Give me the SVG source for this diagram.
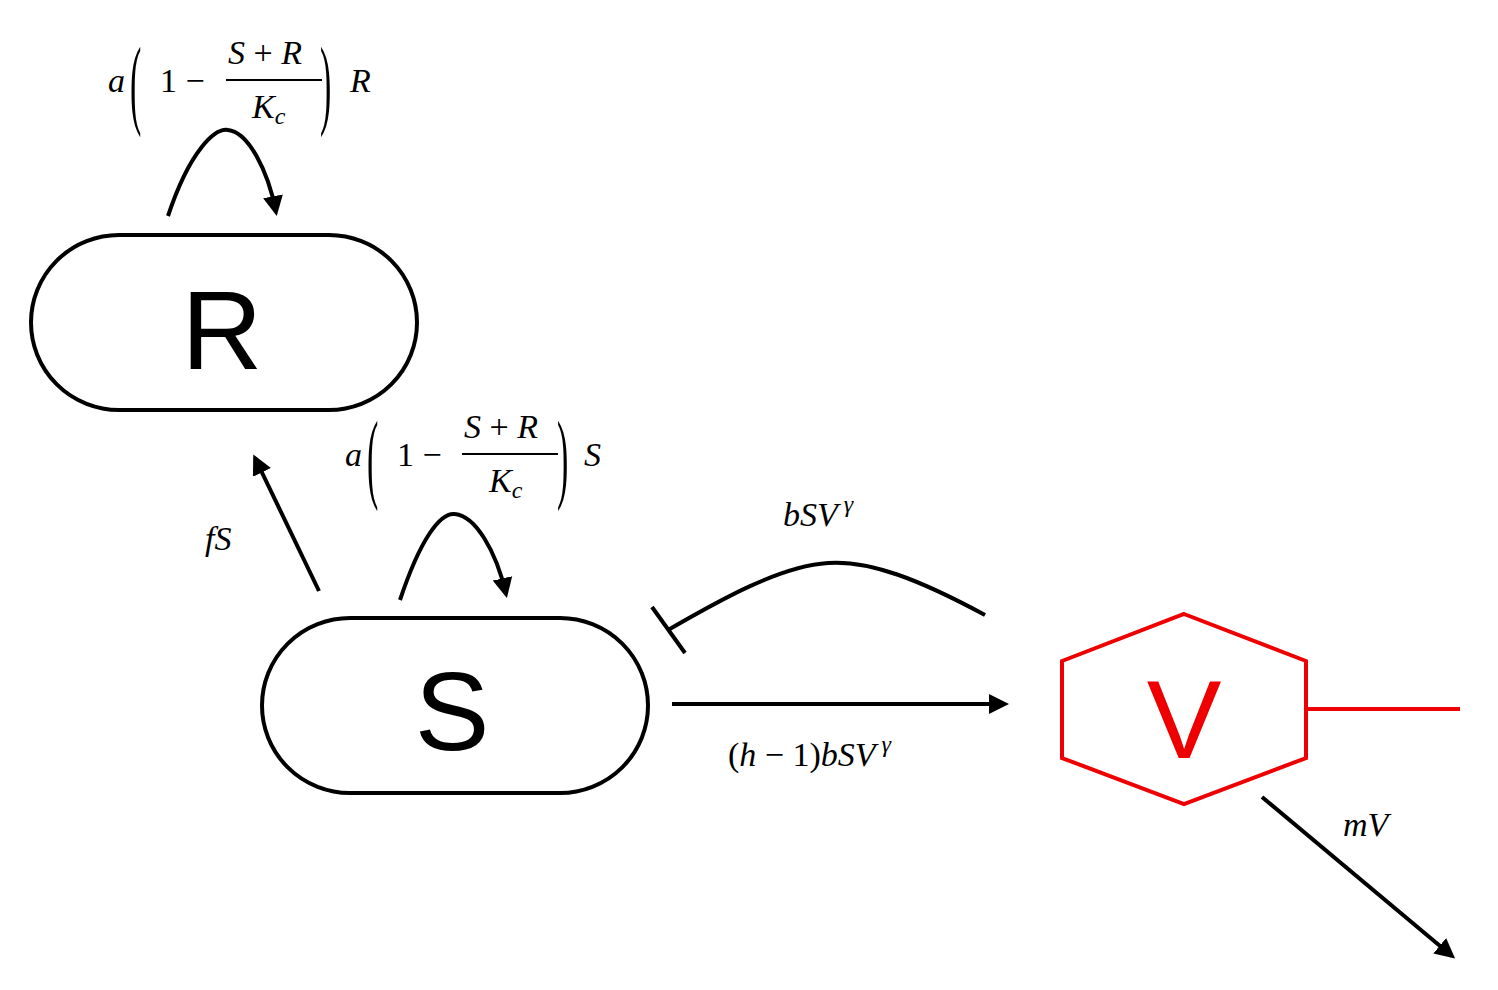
<svg xmlns="http://www.w3.org/2000/svg" width="1498" height="990" viewBox="0 0 1498 990">
<style>
.node{fill:#fff;stroke:#000;stroke-width:4}
.big{font-family:"Liberation Sans",Arial,sans-serif;font-size:112px;text-anchor:middle}
.m{font-family:"Liberation Serif","DejaVu Serif",serif;font-size:34px;font-style:italic}
.n{font-style:normal}
.p{font-family:"Liberation Serif","DejaVu Serif",serif;font-size:34px}
.c{fill:none;stroke:#000;stroke-width:4}
</style>
<defs><marker id="ah" markerWidth="6" markerHeight="6" refX="4" refY="3" orient="auto"><path d="M0,0.5 L5,3 L0,5.5 z" fill="#000"/></marker></defs>
<rect width="1498" height="990" fill="#fff"/>
<g id="R"><rect class="node" x="31" y="235" width="386" height="175" rx="88"/><text class="big" x="222" y="369">R</text></g>
<g id="S"><rect class="node" x="262" y="618" width="386" height="175" rx="88"/><text class="big" x="452" y="750">S</text></g>
<g id="V"><polygon points="1184,614 1306,661 1306,758 1184,804 1062,758 1062,661" fill="#fff" stroke="#e00" stroke-width="4"/><text class="big" x="1184" y="758" fill="#e00">V</text><line x1="1306" y1="709" x2="1460" y2="709" stroke="#e00" stroke-width="4"/></g>
<g id="connectors">
<path class="c" d="M168,216 C190,150 215,128 228,130 C248,132 268,170 276,212" marker-end="url(#ah)"/>
<path class="c" d="M400,600 C420,540 440,512 455,514 C475,516 496,550 506,594" marker-end="url(#ah)"/>
<line class="c" x1="319" y1="591" x2="255" y2="458" marker-end="url(#ah)"/>
<path class="c" d="M985,615 C920,580 870,560 828,563 C780,566 720,600 668,630"/>
<line class="c" x1="652" y1="607" x2="685" y2="653"/>
<line class="c" x1="672" y1="704" x2="1005" y2="704" marker-end="url(#ah)"/>
<line class="c" x1="1262" y1="797" x2="1452" y2="956" marker-end="url(#ah)"/>
</g>
<g id="labels">
<text class="m" x="108" y="92">a</text>
<text class="p" transform="translate(130,116) scale(1,2.9)">(</text>
<text class="m n" x="160" y="92">1 −</text>
<text class="m" x="228" y="64">S <tspan class="n">+</tspan> R</text>
<line x1="226" y1="80" x2="322" y2="80" stroke="#000" stroke-width="2"/>
<text class="m" x="252" y="118">K<tspan font-size="24" dy="6">c</tspan></text>
<text class="p" transform="translate(320,116) scale(1,2.9)">)</text>
<text class="m" x="350" y="92">R</text>
<text class="m" x="345" y="466">a</text>
<text class="p" transform="translate(367,490) scale(1,2.9)">(</text>
<text class="m n" x="397" y="466">1 −</text>
<text class="m" x="464" y="438">S <tspan class="n">+</tspan> R</text>
<line x1="462" y1="454" x2="558" y2="454" stroke="#000" stroke-width="2"/>
<text class="m" x="489" y="492">K<tspan font-size="24" dy="6">c</tspan></text>
<text class="p" transform="translate(557,490) scale(1,2.9)">)</text>
<text class="m" x="584" y="466">S</text>
<text class="m" x="205" y="550">fS</text>
<text class="m" x="783" y="526">bSV<tspan font-size="24" dx="6" dy="-14">γ</tspan></text>
<text class="m" x="728" y="766"><tspan class="n">(</tspan>h <tspan class="n">− 1)</tspan>bSV<tspan font-size="24" dx="6" dy="-14">γ</tspan></text>
<text class="m" x="1343" y="836">mV</text>
</g>
</svg>
